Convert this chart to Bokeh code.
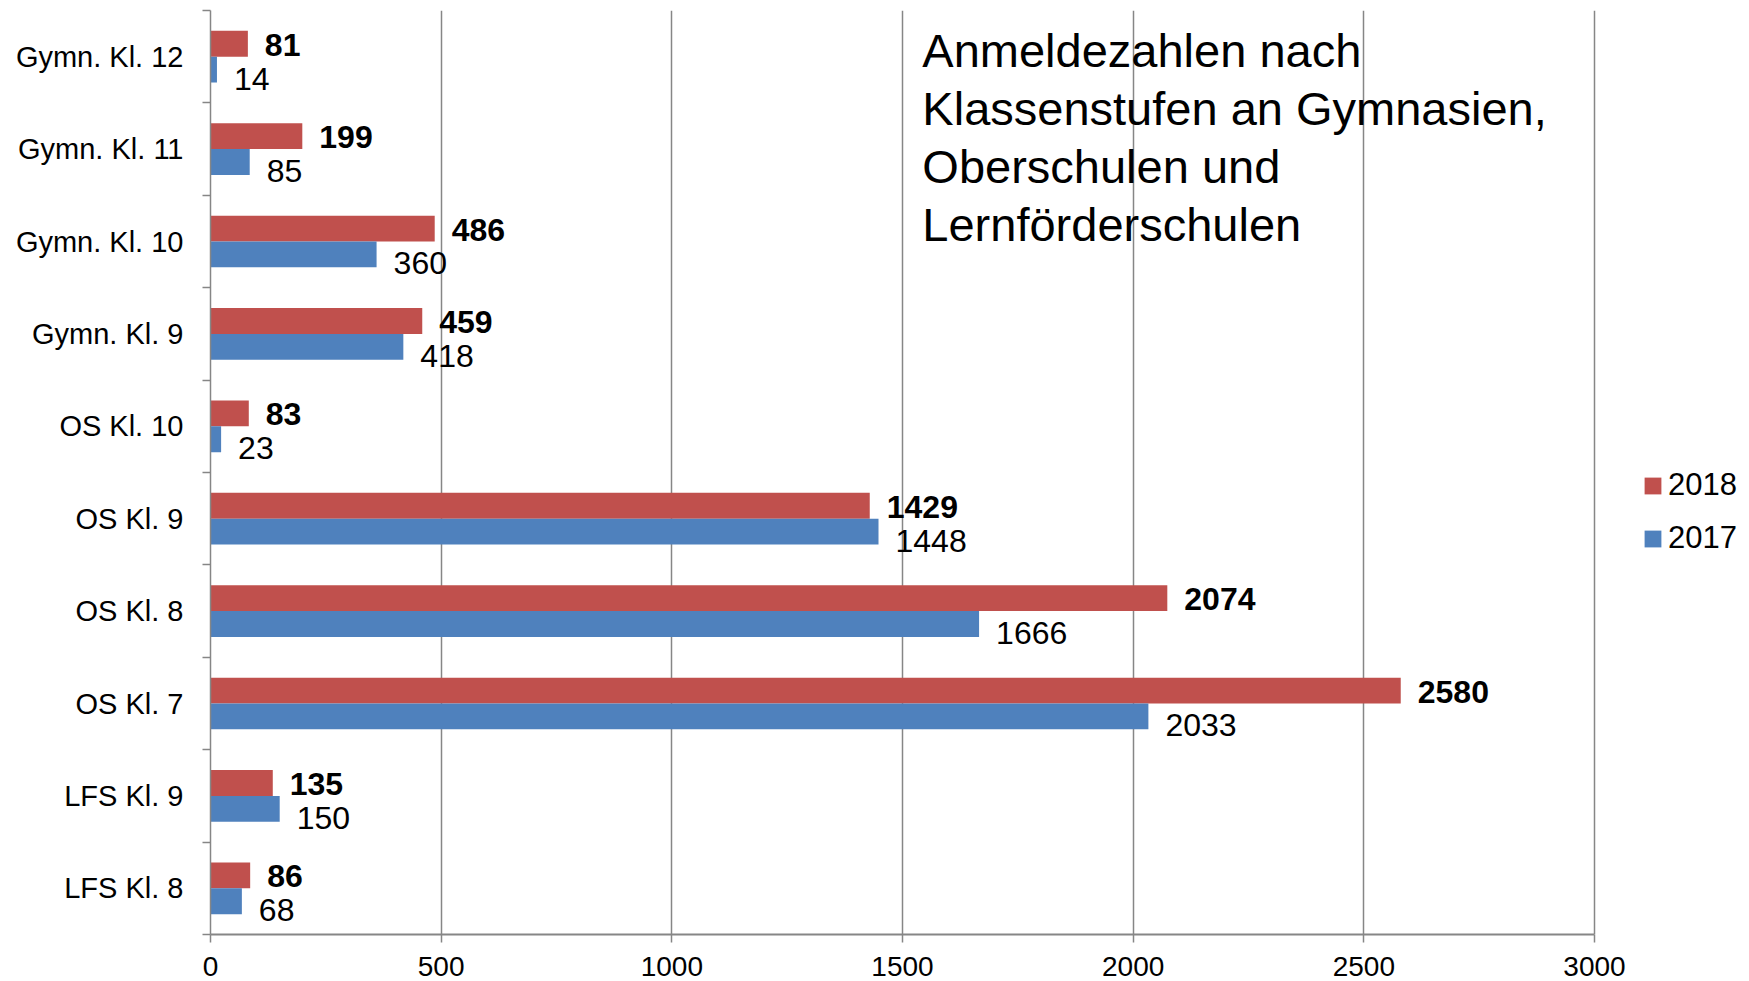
from bokeh.plotting import figure
from bokeh.models import Range1d, FixedTicker, Legend, LegendItem, Label, ColumnDataSource
from bokeh.core.properties import value
from bokeh.embed import file_html
from bokeh.resources import INLINE

categories = ["Gymn. Kl. 12", "Gymn. Kl. 11", "Gymn. Kl. 10", "Gymn. Kl. 9", "OS Kl. 10",
              "OS Kl. 9", "OS Kl. 8", "OS Kl. 7", "LFS Kl. 9", "LFS Kl. 8"]
values_2018 = [81, 199, 486, 459, 83, 1429, 2074, 2580, 135, 86]
values_2017 = [14, 85, 360, 418, 23, 1448, 1666, 2033, 150, 68]
series_names = ["2018", "2017"]
x_ticks = [0, 500, 1000, 1500, 2000, 2500, 3000]
title_lines = ["Anmeldezahlen nach", "Klassenstufen an Gymnasien,", "Oberschulen und", "Lernförderschulen"]

RED = "#C0504D"
BLUE = "#4F81BD"
GRAY = "#868686"
FONT = "Liberation Sans"

W, H = 1749, 981
LEFT, TOP, RIGHT_AXIS, BOTTOM = 210, 10, 1594, 934
X_MAX = 3000

n = len(categories)
centers = [n - 1 - i + 0.5 for i in range(n)]
BAR = 0.28

src18 = ColumnDataSource(dict(y=[c + BAR / 2 for c in centers], v=values_2018,
                              t=[str(v) for v in values_2018]))
src17 = ColumnDataSource(dict(y=[c - BAR / 2 for c in centers], v=values_2017,
                              t=[str(v) for v in values_2017]))

# extend x range so the area right of 3000 (legend) is inside the frame
x_end = X_MAX * (W - LEFT) / (RIGHT_AXIS - LEFT)

p = figure(width=W, height=H, x_range=Range1d(0, x_end), y_range=Range1d(0, n),
           output_backend="svg", toolbar_location=None,
           min_border_left=LEFT, min_border_right=0, min_border_top=TOP,
           min_border_bottom=H - BOTTOM)
p.outline_line_color = None
p.background_fill_color = "white"
p.border_fill_color = "white"

r18 = p.hbar(y="y", right="v", left=0, height=BAR, source=src18, fill_color=RED, line_color=None)
r17 = p.hbar(y="y", right="v", left=0, height=BAR, source=src17, fill_color=BLUE, line_color=None)

p.text(x="v", y="y", text="t", source=src18, x_offset=17, y_offset=1, text_align="left",
       text_baseline="middle", text_font=value(FONT), text_font_size="32px",
       text_font_style="bold", text_color="black")
p.text(x="v", y="y", text="t", source=src17, x_offset=17, y_offset=9, text_align="left",
       text_baseline="middle", text_font=value(FONT), text_font_size="32px",
       text_color="black")

# axes
p.xaxis.ticker = FixedTicker(ticks=x_ticks)
p.xaxis.bounds = (0, X_MAX)
p.xaxis.axis_line_color = GRAY
p.xaxis.axis_line_width = 2
p.xaxis.major_tick_line_color = GRAY
p.xaxis.major_tick_line_width = 1.5
p.xaxis.major_tick_out = 8
p.xaxis.major_tick_in = 0
p.xaxis.minor_tick_line_color = None
p.xaxis.major_label_text_font = FONT
p.xaxis.major_label_text_font_size = "28px"
p.xaxis.major_label_text_color = "black"
p.xaxis.major_label_standoff = 14

p.yaxis.ticker = FixedTicker(ticks=centers, minor_ticks=list(range(n + 1)))
p.yaxis.major_label_overrides = {c: cat for c, cat in zip(centers, categories)}
p.yaxis.axis_line_color = GRAY
p.yaxis.axis_line_width = 1.5
p.yaxis.major_tick_line_color = None
p.yaxis.major_tick_out = 0
p.yaxis.major_tick_in = 0
p.yaxis.minor_tick_line_color = GRAY
p.yaxis.minor_tick_line_width = 1.5
p.yaxis.minor_tick_out = 8
p.yaxis.minor_tick_in = 0
p.yaxis.major_label_text_font = FONT
p.yaxis.major_label_text_font_size = "29px"
p.yaxis.major_label_text_color = "black"
p.yaxis.major_label_standoff = 19

p.xgrid.ticker = FixedTicker(ticks=x_ticks)
p.xgrid.grid_line_color = GRAY
p.xgrid.grid_line_width = 1.5
p.ygrid.visible = False

# legend
legend = Legend(items=[LegendItem(label=series_names[0], renderers=[r18]),
                       LegendItem(label=series_names[1], renderers=[r17])],
                location=(1642 - LEFT, BOTTOM - 556), orientation="vertical",
                glyph_width=21, glyph_height=21, label_height=34, spacing=17,
                label_standoff=5, padding=0, margin=0,
                border_line_color=None, background_fill_alpha=0,
                label_text_font=FONT, label_text_font_size="31px", label_text_color="black")
p.add_layout(legend, "center")

# title block
title_y = [9.567, 8.939, 8.312, 7.684]
for line, ty in zip(title_lines, title_y):
    p.add_layout(Label(x=1543, y=ty, text=line, text_font=FONT, text_font_size="47px",
                       text_color="black", text_align="left", text_baseline="alphabetic"))

open("out.html", "w").write(file_html(p, INLINE))
